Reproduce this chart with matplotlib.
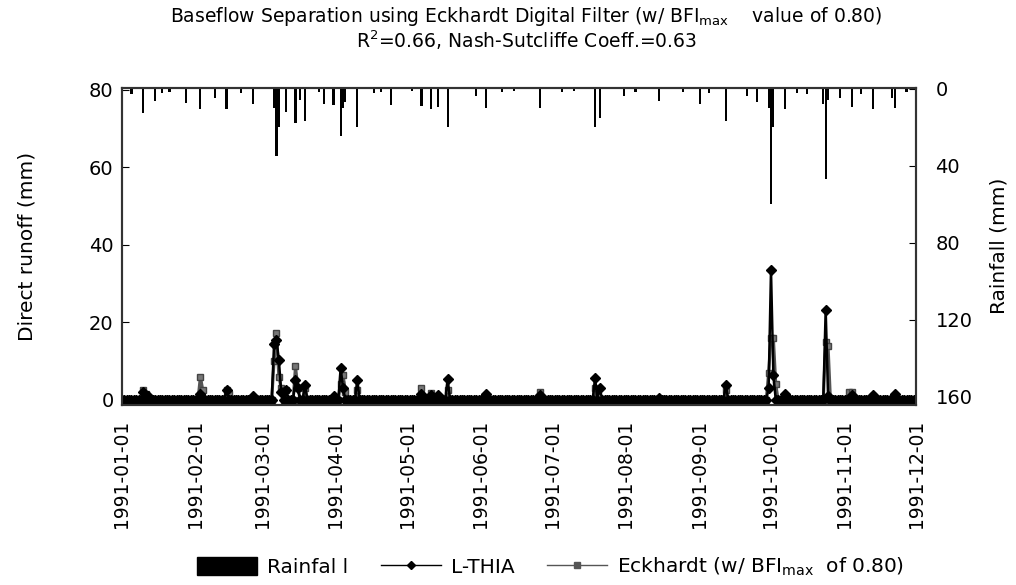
import matplotlib
matplotlib.use('Agg')
import matplotlib.pyplot as plt
import matplotlib.dates as mdates
from matplotlib.patches import Patch
from matplotlib.lines import Line2D
import numpy as np
import pandas as pd

plt.rcParams['font.family'] = ['DejaVu Sans']

# daily rainfall events (mm), all other days zero
rain_dates = ['1991-01-05', '1991-01-10', '1991-01-15', '1991-01-18', '1991-01-21', '1991-01-28',
              '1991-02-03', '1991-02-09', '1991-02-14', '1991-02-20', '1991-02-25',
              '1991-03-06', '1991-03-07', '1991-03-08', '1991-03-11', '1991-03-15', '1991-03-17',
              '1991-03-19', '1991-03-25', '1991-03-27', '1991-03-31',
              '1991-04-03', '1991-04-04', '1991-04-05', '1991-04-10', '1991-04-17', '1991-04-20',
              '1991-04-24', '1991-05-03', '1991-05-07', '1991-05-11', '1991-05-14', '1991-05-18',
              '1991-05-30', '1991-06-03', '1991-06-10', '1991-06-15', '1991-06-26',
              '1991-07-05', '1991-07-10', '1991-07-19', '1991-07-21', '1991-07-31',
              '1991-08-05', '1991-08-15', '1991-08-25', '1991-09-01', '1991-09-05', '1991-09-12',
              '1991-09-21', '1991-09-25', '1991-09-30', '1991-10-01', '1991-10-02', '1991-10-07',
              '1991-10-12', '1991-10-16', '1991-10-23', '1991-10-24', '1991-10-25', '1991-10-30',
              '1991-11-04', '1991-11-08', '1991-11-13', '1991-11-21', '1991-11-22', '1991-11-27']
rain_vals = [3, 12.5, 6.6, 2, 1.5, 7.5,
             10.5, 5, 10.5, 2, 8,
             10, 35, 20, 12, 18, 6,
             16.6, 1.5, 8, 8.7,
             24.6, 10, 7, 19.7, 2, 1.5,
             8.4, 1, 9, 10.5, 9.6, 19.7,
             4, 10, 1.5, 1, 10,
             1.5, 1, 19.7, 15, 4,
             1.5, 6.6, 1.5, 8, 2, 16.6,
             4, 7, 10, 60, 20, 10.5,
             2, 3, 8, 47, 6, 5,
             9.6, 3, 10.5, 5, 10, 1.5]

# direct runoff, L-THIA (mm)
lthia_dates = ['1991-01-10', '1991-01-12', '1991-02-03', '1991-02-14', '1991-02-25',
               '1991-03-06', '1991-03-07', '1991-03-08', '1991-03-09', '1991-03-11',
               '1991-03-15', '1991-03-16', '1991-03-19', '1991-03-31', '1991-04-03',
               '1991-04-04', '1991-04-10', '1991-05-07', '1991-05-11', '1991-05-14',
               '1991-05-18', '1991-06-03', '1991-06-26', '1991-07-19', '1991-07-21',
               '1991-08-15', '1991-09-12', '1991-09-30', '1991-10-01', '1991-10-02',
               '1991-10-07', '1991-10-24', '1991-10-25', '1991-11-04', '1991-11-13',
               '1991-11-22']
lthia_vals = [2.1, 1.0, 1.5, 2.6, 1.0,
              14.5, 15.5, 10.3, 2.0, 2.5,
              5.2, 3.0, 3.9, 1.0, 8.2,
              3.0, 5.2, 1.5, 1.2, 1.2,
              5.4, 1.5, 1.2, 5.6, 3.0,
              0.5, 3.9, 3.0, 33.5, 6.4,
              1.4, 23.2, 1.0, 1.2, 1.2,
              1.5]

# direct runoff, Eckhardt filter (mm)
eck_dates = ['1991-01-10', '1991-01-11', '1991-02-03', '1991-02-04', '1991-02-14', '1991-02-15',
             '1991-03-06', '1991-03-07', '1991-03-08', '1991-03-09', '1991-03-11', '1991-03-15',
             '1991-03-16', '1991-03-19', '1991-04-03', '1991-04-04', '1991-04-05', '1991-04-10',
             '1991-05-07', '1991-05-11', '1991-05-18', '1991-06-26', '1991-07-19', '1991-09-12',
             '1991-09-30', '1991-10-01', '1991-10-02', '1991-10-03', '1991-10-24', '1991-10-25',
             '1991-11-03', '1991-11-04', '1991-11-13', '1991-11-22']
eck_vals = [2.5, 1.5, 6.0, 2.5, 2.5, 1.5,
            10.0, 17.2, 6.0, 3.0, 2.5, 8.6,
            3.0, 3.0, 4.0, 6.5, 2.0, 2.5,
            3.0, 1.8, 2.5, 2.1, 3.0, 2.5,
            7.0, 16.0, 16.0, 4.0, 15.0, 14.0,
            2.0, 2.0, 1.0, 1.0]

days = pd.date_range('1991-01-01', '1991-12-01', freq='D')
rain = pd.Series(0.0, index=days)
rain[pd.to_datetime(rain_dates)] = rain_vals
lthia = pd.Series(0.0, index=days)
lthia[pd.to_datetime(lthia_dates)] = lthia_vals
eck = pd.Series(0.0, index=days)
eck[pd.to_datetime(eck_dates)] = eck_vals

fig = plt.figure(figsize=(10.16, 5.85), dpi=100)
ax = fig.add_axes([0.120, 0.308, 0.7816, 0.542])
ax2 = ax.twinx()

ax.plot(days, eck, color='#555555', lw=2.2, marker='s', ms=5, mfc='#777777', mec='#444444', zorder=3)
ax.plot(days, lthia, color='black', lw=1.8, marker='D', ms=5, mfc='black', mec='black', zorder=4)

ax2.bar(days, rain, width=0.9, color='black', align='center')

ax.set_xlim(pd.Timestamp('1991-01-01'), pd.Timestamp('1991-12-01'))
ax.set_ylim(-1.3, 80.5)
ax2.set_ylim(164.2, -0.5)
ax.set_yticks([0, 20, 40, 60, 80])
ax2.set_yticks([0, 40, 80, 120, 160])

ax.xaxis.set_major_locator(mdates.MonthLocator())
ax.xaxis.set_major_formatter(mdates.DateFormatter('%Y-%m-%d'))
for lbl in ax.get_xticklabels():
    lbl.set_rotation(90)

ax.tick_params(axis='x', direction='out', length=0, pad=11, labelsize=13.5)
ax.tick_params(axis='y', direction='in', length=5, pad=6, labelsize=14)
ax2.tick_params(axis='y', direction='in', length=5, pad=14, labelsize=14)

for a in (ax, ax2):
    for s in a.spines.values():
        s.set_color('#333333')
        s.set_linewidth(1.5)

ax.set_ylabel('Direct runoff (mm)', fontsize=14.5, labelpad=38)
ax2.set_ylabel('Rainfall (mm)', fontsize=14.5, labelpad=12)

fig.text(0.518, 0.972, 'Baseflow Separation using Eckhardt Digital Filter (w/ BFI$_\\mathrm{max}$    value of 0.80)',
         ha='center', va='center', fontsize=13.5)
fig.text(0.518, 0.932, 'R$^2$=0.66, Nash-Sutcliffe Coeff.=0.63', ha='center', va='center', fontsize=13.5)

handles = [Patch(facecolor='black', edgecolor='black'),
           Line2D([], [], color='black', lw=1, marker='D', ms=4),
           Line2D([], [], color='#555555', lw=1, marker='s', ms=4)]
labels = ['Rainfal l', 'L-THIA', 'Eckhardt (w/ BFI$_\\mathrm{max}$  of 0.80)']
fig.legend(handles, labels, loc='center', bbox_to_anchor=(0.542, 0.031), ncol=3, frameon=False,
           fontsize=14.5, handlelength=3.0, handleheight=1.0, columnspacing=1.6, handletextpad=0.5)

fig.savefig('out.png', dpi=100)
